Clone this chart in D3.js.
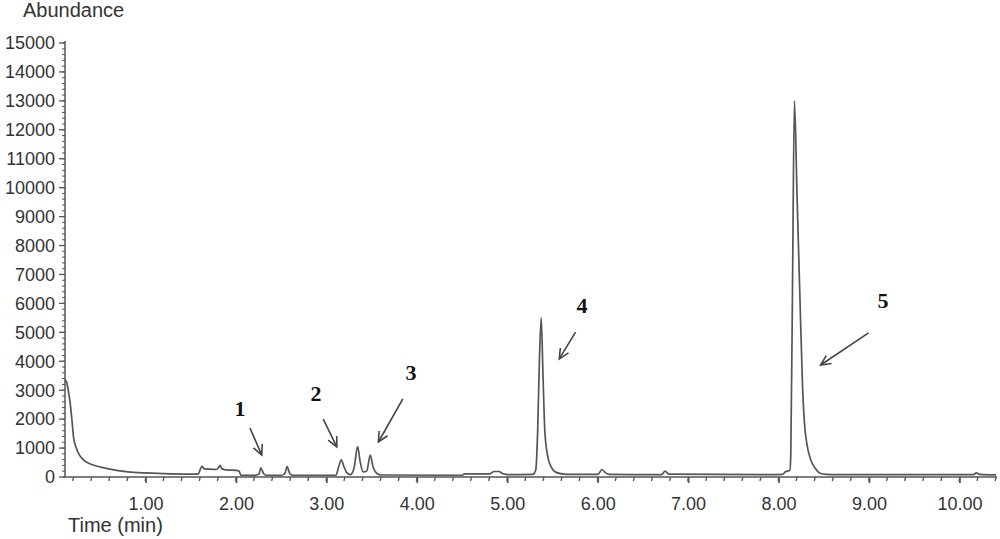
<!DOCTYPE html>
<html><head><meta charset="utf-8">
<script src="https://cdn.jsdelivr.net/npm/d3@7"></script>
<style>body{margin:0;background:#fff}svg{display:block}</style>
</head><body>
<svg id="c" width="1000" height="539"></svg>
<script>
// Chromatogram trace (time in min, abundance)
const times = [0.10,0.12,0.14,0.16,0.18,0.20,0.23,0.26,0.30,0.35,0.40,0.50,0.60,0.80,1.00,1.27,1.55,
 1.58,1.60,1.62,1.64,1.70,1.78,1.80,1.82,1.84,1.90,2.00,2.03,2.05,2.20,2.25,2.27,2.30,2.33,2.50,2.54,2.56,2.59,2.62,
 3.10,3.13,3.16,3.19,3.22,3.26,3.30,3.34,3.37,3.40,3.44,3.48,3.51,3.55,3.60,4.50,4.52,4.80,4.85,4.90,4.95,5.00,
 5.28,5.31,5.33,5.35,5.37,5.39,5.41,5.44,5.48,5.54,5.62,5.70,6.00,6.04,6.08,6.12,6.70,6.74,6.78,7.90,
 8.04,8.07,8.12,8.13,8.15,8.17,8.20,8.23,8.26,8.28,8.31,8.35,8.40,8.46,8.52,8.65,9.00,10.15,10.18,10.22,10.40];
const abundance = [3350,3300,3000,2600,2000,1350,1000,780,620,500,430,340,270,180,140,110,100,
 110,260,380,290,270,260,320,400,280,240,230,200,60,55,100,320,120,60,60,150,360,120,60,
 60,350,590,350,150,80,300,1050,500,180,200,760,350,130,70,60,110,110,190,190,110,80,
 90,250,1500,4000,5500,3500,1600,750,350,150,100,90,90,260,150,90,80,200,100,80,
 90,180,230,800,7000,13000,9600,6300,3100,1900,1100,600,300,120,90,80,80,80,140,90,70];

const yTicks = [0,1000,2000,3000,4000,5000,6000,7000,8000,9000,10000,11000,12000,13000,14000,15000];
const xTicks = [1,2,3,4,5,6,7,8,9,10];
const xTickLabels = ["1.00","2.00","3.00","4.00","5.00","6.00","7.00","8.00","9.00","10.00"];

// Peak annotations: label position and arrow (tail -> head), in data units
const peakLabels = ["1","2","3","4","5"];
const labelT = [2.04,2.88,3.93,5.82,9.15];
const labelV = [2385,2900,3630,5945,6120];
const arrowT0 = [2.15,2.96,3.84,5.75,8.99];
const arrowV0 = [1690,2000,2700,5010,4980];
const arrowT1 = [2.28,3.11,3.57,5.57,8.46];
const arrowV1 = [760,1040,1210,4080,3870];

const svg = d3.select("#c");
const x = d3.scaleLinear().domain([0.1,10.41]).range([64.6,997]);
const y = d3.scaleLinear().domain([0,15000]).range([477,43]);
const ink = "#555";

// X axis
const gx = svg.append("g").attr("transform","translate(0,477)");
gx.append("line").attr("x1",x(0.1)).attr("x2",x(10.41)).attr("stroke",ink).attr("stroke-width",1.5);
gx.call(g=>{
  const minor = d3.range(0.2,10.41,0.2);
  g.selectAll(".mn").data(minor).join("line")
   .attr("x1",d=>x(d)).attr("x2",d=>x(d)-1).attr("y1",0).attr("y2",4).attr("stroke",ink).attr("stroke-width",1.3);
  g.selectAll(".mj").data(xTicks).join("line")
   .attr("x1",d=>x(d)).attr("x2",d=>x(d)).attr("y1",0).attr("y2",6).attr("stroke",ink).attr("stroke-width",1.8);
  g.selectAll("text").data(xTicks).join("text")
   .attr("x",d=>x(d)).attr("y",33).attr("text-anchor","middle")
   .attr("font-family","Liberation Sans, Arial, sans-serif").attr("font-size",18).attr("fill","#333")
   .text((d,i)=>xTickLabels[i]);
});

// Y axis
const gy = svg.append("g").attr("transform","translate(65,0)");
gy.append("line").attr("y1",y(0)).attr("y2",y(15000)-2).attr("stroke",ink).attr("stroke-width",1.5);
gy.selectAll(".mn").data(d3.range(0,15001,200)).join("line")
  .attr("x1",0).attr("x2",-3).attr("y1",d=>y(d)).attr("y2",d=>y(d)).attr("stroke",ink).attr("stroke-width",1);
gy.selectAll(".mj").data(yTicks).join("line")
  .attr("x1",0).attr("x2",-6).attr("y1",d=>y(d)).attr("y2",d=>y(d)).attr("stroke",ink).attr("stroke-width",1.3);
gy.selectAll("text").data(yTicks).join("text")
  .attr("x",-10).attr("y",d=>y(d)).attr("dy","0.35em").attr("text-anchor","end")
  .attr("font-family","Liberation Sans, Arial, sans-serif").attr("font-size",18).attr("fill","#333")
  .text(d=>d);

// Titles
svg.append("text").attr("x",23).attr("y",17).attr("font-family","Liberation Sans, Arial, sans-serif")
  .attr("font-size",20).attr("fill","#333").text("Abundance");
svg.append("text").attr("x",68).attr("y",532).attr("font-family","Liberation Sans, Arial, sans-serif")
  .attr("font-size",20).attr("fill","#333").text("Time (min)");

// Trace
const pts = times.map((t,i)=>[t,abundance[i]]);
const line = d3.line().x(d=>x(d[0])).y(d=>y(d[1])).curve(d3.curveMonotoneX);
svg.append("path").attr("d",line(pts)).attr("fill","none").attr("stroke","#555").attr("stroke-width",1.7)
  .attr("stroke-linejoin","round");

// Annotations
peakLabels.forEach((lab,i)=>{
  svg.append("text").attr("x",x(labelT[i])).attr("y",y(labelV[i])).attr("dy","0.35em")
    .attr("text-anchor","middle").attr("font-family","Liberation Serif, Times New Roman, serif")
    .attr("font-weight","bold").attr("font-size",22).attr("fill","#111").text(lab);
  const x0=x(arrowT0[i]), y0=y(arrowV0[i]), x1=x(arrowT1[i]), y1=y(arrowV1[i]);
  const ang=Math.atan2(y1-y0,x1-x0), L=11, sp=0.45;
  svg.append("line").attr("x1",x0).attr("y1",y0).attr("x2",x1).attr("y2",y1)
    .attr("stroke","#444").attr("stroke-width",1.6);
  const hp = [[x1-L*Math.cos(ang-sp), y1-L*Math.sin(ang-sp)],[x1,y1],[x1-L*Math.cos(ang+sp), y1-L*Math.sin(ang+sp)]];
  svg.append("path").attr("d",d3.line()(hp)).attr("fill","none").attr("stroke","#444").attr("stroke-width",1.6);
});
</script>
</body></html>
